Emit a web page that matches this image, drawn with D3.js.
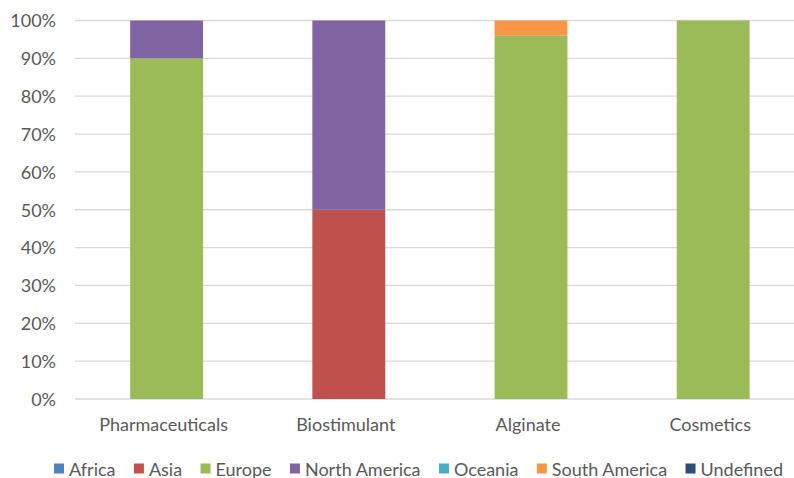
<!DOCTYPE html>
<html><head><meta charset="utf-8">
<script src="https://cdn.jsdelivr.net/npm/d3@7"></script>
<style>body{margin:0;background:#fff}svg{display:block}text{font-family:Lato,"Open Sans",sans-serif;fill:#595959}</style>
</head><body><svg id="c" width="794" height="478"></svg>
<script>
const categories = ["Pharmaceuticals","Biostimulant","Alginate","Cosmetics"];
const seriesNames = ["Africa","Asia","Europe","North America","Oceania","South America","Undefined"];
const seriesColors = ["#4F81BD","#C0504D","#9BBB59","#8064A2","#4BACC6","#F79646","#2C4D75"];
const africa = [0,0,0,0];
const asia = [0,50,0,0];
const europe = [90,0,96,100];
const northAmerica = [10,50,0,0];
const oceania = [0,0,0,0];
const southAmerica = [0,0,4,0];
const undefinedRegion = [0,0,0,0];
const yTicks = [0,10,20,30,40,50,60,70,80,90,100];

const seriesValues = [africa,asia,europe,northAmerica,oceania,southAmerica,undefinedRegion];
const rows = categories.map((c,i)=>{const r={cat:c};seriesNames.forEach((s,j)=>r[s]=seriesValues[j][i]);return r;});
const stack = d3.stack().keys(seriesNames)(rows);

const FS = 18;
const svg = d3.select("#c");
const x = d3.scaleBand().domain(categories).range([75.5,804.3]).paddingInner(0.6).paddingOuter(0.3);
const y = d3.scaleLinear().domain([0,100]).range([399,20.5]);
const color = d3.scaleOrdinal().domain(seriesNames).range(seriesColors);

// gridlines
svg.append("g").selectAll("line").data(yTicks).join("line")
  .attr("x1",75).attr("x2",804).attr("y1",d=>y(d)).attr("y2",d=>y(d))
  .attr("stroke","#D9D9D9").attr("stroke-width",1.3);

// y labels
const yAxis = svg.append("g").attr("transform","translate(56,0)")
  .call(d3.axisLeft(y).tickValues(yTicks).tickFormat(d=>d+"%").tickSize(0).tickPadding(0));
yAxis.select(".domain").remove();
yAxis.selectAll("text").attr("font-size",FS).attr("fill","#595959").attr("font-family","Lato").attr("dy","0.35em");

// bars
svg.append("g").selectAll("g").data(stack).join("g").attr("fill",d=>color(d.key))
  .selectAll("rect").data(d=>d).join("rect")
  .attr("x",d=>x(d.data.cat)).attr("width",x.bandwidth())
  .attr("y",d=>y(d[1])).attr("height",d=>y(d[0])-y(d[1]));

// x labels
const xAxis = svg.append("g").attr("transform","translate(-3,399)")
  .call(d3.axisBottom(x).tickSize(0).tickPadding(0));
xAxis.select(".domain").remove();
xAxis.selectAll("text").attr("font-size",FS).attr("fill","#595959").attr("font-family","Lato").attr("y",32).attr("dy",0);

// legend
const leg = svg.append("g");
const items = seriesNames.map((s,i)=>{
  const r = leg.append("rect").attr("y",463.5).attr("width",10).attr("height",10).attr("fill",seriesColors[i]);
  const t = leg.append("text").attr("y",475.5).attr("font-size",FS).text(s);
  return {r,t,w:t.node().getComputedTextLength()};
});
const totalText = d3.sum(items,d=>d.w) + items.length*15;
const gap = (783-54-totalText)/(items.length-1);
let lx = 54;
items.forEach(d=>{
  d.r.attr("x",lx); d.t.attr("x",lx+15);
  lx += 15 + d.w + gap;
});
</script></body></html>
